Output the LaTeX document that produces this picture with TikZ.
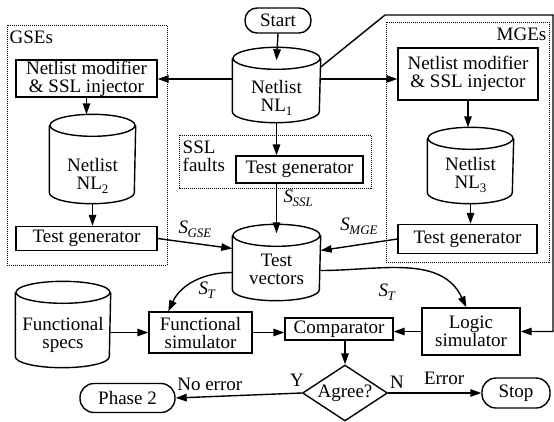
\documentclass[tikz,border=0pt]{standalone}
\usepackage{fontspec}
\setmainfont{Liberation Serif}
\usepackage{tikz}
\usetikzlibrary{arrows.meta, positioning, calc, shapes.geometric}

\newcommand{\lowtext}[1]{\raisebox{-4pt}{\fontsize{13}{13}\selectfont #1}}
\newcommand{\sig}[1]{\textit{S}\kern-0.5pt\lowtext{\textit{#1}}}
\newcommand{\drum}[2]{%
    \draw ($(#1.north west)+(0,11)$) -- ($(#1.south west)+(0,-11)$)
        arc[start angle=180, end angle=360, x radius=#2pt, y radius=11pt]
        -- ($(#1.north east)+(0,11)$);
    \draw ($(#1.north)+(0,11)$) ellipse [x radius=#2pt, y radius=11pt];
}

\begin{document}
\begin{tikzpicture}[x=1pt, y=-1pt, line width=1.4pt,
    every node/.style={font=\fontsize{19}{18}\selectfont},
    box/.style={draw, align=center, inner sep=0pt},
    db/.style={rectangle, inner sep=0pt},
    term/.style={draw, rounded corners=12pt, inner sep=0pt},
    grp/.style={draw, densely dotted, line width=1pt},
    arr/.style={-{Triangle[length=11pt, width=7.5pt]}}]

    \useasboundingbox (0,0) rectangle (554,421);

    \draw[grp] (7,25) rectangle (167,265);
    \draw[grp] (386,22) rectangle (549,262);
    \draw[grp] (179,135) rectangle (371,188);
    \node[anchor=north west, inner sep=0pt] (gsel) at (9,30) {GSEs};
    \node[anchor=north east, inner sep=0pt] (mgel) at (547,27) {MGEs};
    \node[anchor=north west, align=left, inner sep=0pt] (ssll) at (182,140) {SSL\\faults};

    \node[term, minimum width=66pt, minimum height=25pt] (start) at (278,20.5) {Start};
    \node[db, minimum width=87pt, minimum height=74pt,
        label={[align=center, yshift=-13pt]center:Netlist\\NL\lowtext{1}}] (nl1) at (276.5,85) {};
    \drum{nl1}{43.5}

    \node[box, minimum width=141pt, minimum height=37pt] (gmod) at (86.5,78.5) {Netlist modifier\\\& SSL injector};
    \node[db, minimum width=85pt, minimum height=88pt,
        label={[align=center, yshift=-17pt]center:Netlist\\NL\lowtext{2}}] (gnl) at (92.5,159) {};
    \drum{gnl}{42.5}
    \node[box, minimum width=141pt, minimum height=24pt] (ggen) at (86.5,238.5) {Test generator};

    \node[box, minimum width=127pt, minimum height=27pt] (sgen) at (299.5,169.5) {Test generator};

    \node[box, minimum width=140pt, minimum height=52pt] (mmod) at (468,74) {Netlist modifier\\\& SSL injector};
    \node[db, minimum width=85pt, minimum height=75pt,
        label={[align=center, yshift=-9pt]center:Netlist\\NL\lowtext{3}}] (mnl) at (470.5,165.5) {};
    \drum{mnl}{42.5}
    \node[box, minimum width=139pt, minimum height=29pt] (mgen) at (467.5,239) {Test generator};

    \node[db, minimum width=87pt, minimum height=75pt,
        label={[align=center, yshift=-7pt]center:Test\\vectors}] (tv) at (276.5,262.5) {};
    \drum{tv}{43.5}

    \node[db, minimum width=94pt, minimum height=85pt,
        label={[align=center, yshift=-10pt]center:Functional\\specs}] (fspec) at (63,324.5) {};
    \drum{fspec}{47}
    \node[box, minimum width=103pt, minimum height=41pt] (fsim) at (200.5,332.5) {Functional\\simulator};
    \node[box, minimum width=108pt, minimum height=22pt] (comp) at (339,329) {Comparator};
    \node[box, minimum width=98pt, minimum height=47pt] (lsim) at (471,331.5) {Logic\\simulator};

    \node[draw, diamond, aspect=1.55, inner sep=0pt, minimum width=85pt, minimum height=56pt] (agree) at (345,393) {Agree?};
    \node[term, rounded corners=14pt, minimum width=95pt, minimum height=29pt] (phase2) at (127.5,398) {Phase 2};
    \node[term, rounded corners=14pt, minimum width=68pt, minimum height=30pt] (stop) at (516,393) {Stop};

    \draw[arr] (start.south) -- ($(nl1.north)+(0,13)$);
    \draw[arr] ($(nl1.west)+(0,-6)$) coordinate (l1) -- (l1 -| gmod.east);
    \draw[arr] ($(nl1.east)+(0,-6)$) coordinate (r1) -- (r1 -| mmod.west);
    \draw[arr] (nl1.south) -- (nl1.south |- sgen.north);
    \draw[arr] (sgen.south -| tv.north) -- ($(tv.north)+(0,9)$) node[pos=0.3, right=3pt] {\sig{SSL}};

    \draw[arr] (gmod.south) -- (gmod.south |- gnl.north);
    \draw[arr] (gnl.south) -- (gnl.south |- ggen.north);
    \draw[arr] (mmod.south) -- (mmod.south |- mnl.north);
    \draw[arr] (mnl.south) -- (mnl.south |- mgen.north);

    \draw[arr] (ggen.east) -- ($(tv.west)+(0,-14)$) node[midway, above=2pt] {\sig{GSE}};
    \draw[arr] (mgen.west) -- ($(tv.east)+(0,-12)$) node[midway, above=6pt] {\sig{MGE}};

    \draw[arr] ($(tv.west)+(0,10)$) to[out=180, in=65] ($(fsim.north west)+(20,0)$);
    \draw[arr] ($(tv.east)+(0,8)$) to[out=0, in=115] ($(lsim.north west)+(45,0)$);
    \node (stl) at (207,290) {\sig{T}};
    \node (str) at (387,292) {\sig{T}};

    \draw[arr] ($(nl1.east)+(0,-18)$) -- (385,15) -- (553,15) |- (lsim.east);

    \draw[arr] (fspec.east |- fsim.west) -- (fsim.west);
    \draw[arr] (fsim.east) -- (fsim.east -| comp.west);
    \draw[arr] (lsim.west) -- (lsim.west -| comp.east);
    \draw[arr] (comp.south -| agree.north) -- (agree.north);

    \draw[arr] (agree.west) -- (phase2.east) node[pos=0.73, above=2pt] {No error};
    \draw[arr] (agree.east) -- (stop.west) node[pos=0.6, above=4pt] {Error};
    \node (yl) at (297,380) {Y};
    \node (nl) at (397,382) {N};
\end{tikzpicture}
\end{document}
